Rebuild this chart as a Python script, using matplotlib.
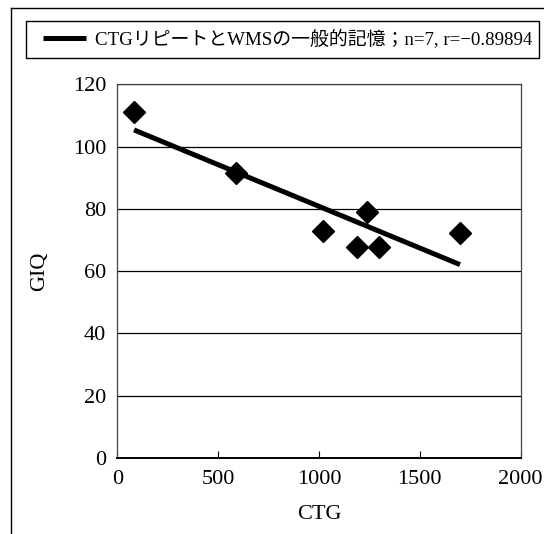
import numpy as np
import matplotlib
matplotlib.use('Agg')
import matplotlib.pyplot as plt
from matplotlib.lines import Line2D
from matplotlib.patches import Rectangle
from matplotlib.font_manager import FontProperties

plt.rcParams['font.family'] = ['Liberation Serif', 'Noto Sans CJK JP']

# data
ctg = [83, 588, 1021, 1187, 1240, 1299, 1699]
giq = [111.2, 91.4, 72.8, 67.9, 78.9, 67.9, 72.4]
x_ticks = [0, 500, 1000, 1500, 2000]
y_ticks = [0, 20, 40, 60, 80, 100, 120]
legend_label = 'CTGリピートとWMSの一般的記憶；n=7, r=−0.89894'

W, H = 544, 534
fig = plt.figure(figsize=(W / 100, H / 100), dpi=100)
ax = fig.add_axes([117.3 / W, 1 - 458 / H, 403.4 / W, 373.7 / H])

# regression line through the points
slope, icpt = np.polyfit(ctg, giq, 1)
xs = np.array([min(ctg), max(ctg)])
ax.plot(xs, slope * xs + icpt, color='black', lw=3.6, solid_capstyle='butt',
        zorder=3, label=legend_label)
ax.plot(ctg, giq, linestyle='none', marker='D', ms=11, color='black', zorder=4)

ax.set_xlim(0, 2000)
ax.set_ylim(0, 120)
ax.set_xticks(x_ticks)
ax.set_yticks(y_ticks)
ax.tick_params(axis='x', direction='in', length=5, width=0.8, pad=9, labelsize=16)
ax.tick_params(axis='y', length=0, pad=8, labelsize=16)
ax.grid(axis='y', color='black', lw=0.9)
ax.set_axisbelow(True)
for s in ['top', 'right', 'left']:
    ax.spines[s].set_color('#444444')
    ax.spines[s].set_linewidth(0.9)
ax.spines['bottom'].set_linewidth(1.4)

ax.set_xlabel('CTG', fontsize=16, labelpad=11)
ax.set_ylabel('GIQ', fontsize=16, labelpad=17)

# legend box across the top
fs = 13.6
fs_px = fs * 100 / 72
leg = ax.legend(loc='center left', bbox_to_anchor=(43 / W, 1 - 39.5 / H),
                bbox_transform=fig.transFigure, frameon=False,
                prop=FontProperties(family=['Liberation Serif', 'Noto Sans CJK JP'], size=fs),
                handlelength=43 / fs_px, handletextpad=9 / fs_px,
                borderpad=0, borderaxespad=0)
fig.add_artist(Rectangle((26 / W, 1 - 58 / H), 513 / W, 37 / H, transform=fig.transFigure,
                         fill=False, edgecolor='black', lw=1.0))

# outer frame (open at right and bottom)
fig.add_artist(Line2D([11 / W, 11 / W], [0, 1 - 8 / H], color='black', lw=1.0))
fig.add_artist(Line2D([11 / W, 1], [1 - 8 / H, 1 - 8 / H], color='black', lw=1.0))

fig.savefig('out.png', dpi=100)
